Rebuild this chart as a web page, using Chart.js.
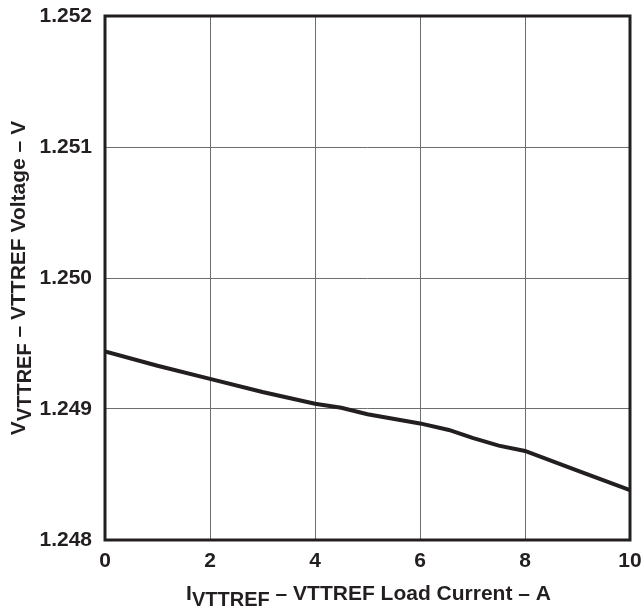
<!DOCTYPE html>
<html>
<head>
<meta charset="utf-8">
<script src="https://cdn.jsdelivr.net/npm/chart.js@4.4.1/dist/chart.umd.min.js"></script>
<style>
  html, body { margin: 0; padding: 0; background: #fff; }
  #wrap { width: 643px; height: 610px; }
</style>
</head>
<body>
<div id="wrap"><canvas id="c" width="643" height="610"></canvas></div>
<script>
// Load current (A) and the resulting VTTREF output voltage (V)
const loadCurrent = [0, 1, 2, 3, 4, 4.5, 5, 6, 6.55, 7, 7.5, 8, 9, 10];
const vttrefVoltage = [1.24944, 1.24933, 1.24923, 1.24913, 1.24904, 1.24901, 1.24896, 1.24889, 1.24884, 1.24878, 1.24872, 1.24868, 1.24853, 1.24838];
const xTicks = [0, 2, 4, 6, 8, 10];
const yTicks = [1.248, 1.249, 1.250, 1.251, 1.252];

const FONT = '"Liberation Sans", Arial, Helvetica, sans-serif';
const INK = '#231f20';

// Axis title with a subscripted symbol, centred on the current origin
function drawSubTitle(ctx, main, sub, rest, size, subSize, subDrop) {
  ctx.font = `bold ${size}px ${FONT}`;
  const w1 = ctx.measureText(main).width;
  const w3 = ctx.measureText(rest).width;
  ctx.font = `bold ${subSize}px ${FONT}`;
  const w2 = ctx.measureText(sub).width;
  let x = -(w1 + w2 + w3) / 2;
  ctx.textBaseline = 'alphabetic';
  ctx.textAlign = 'left';
  ctx.font = `bold ${size}px ${FONT}`;
  ctx.fillText(main, x, 0); x += w1;
  ctx.font = `bold ${subSize}px ${FONT}`;
  ctx.fillText(sub, x, subDrop); x += w2;
  ctx.font = `bold ${size}px ${FONT}`;
  ctx.fillText(rest, x, 0);
}

const titlesPlugin = {
  id: 'axisTitles',
  afterDraw(chart) {
    const ctx = chart.ctx;
    const area = chart.chartArea;
    ctx.save();
    ctx.fillStyle = INK;
    // x-axis title
    ctx.save();
    ctx.translate((area.left + area.right) / 2 + 1, 600);
    drawSubTitle(ctx, 'I', 'VTTREF', ' \u2013 VTTREF Load Current \u2013 A', 21, 20, 6);
    ctx.restore();
    // y-axis title
    ctx.save();
    ctx.translate(25, (area.top + area.bottom) / 2);
    ctx.rotate(-Math.PI / 2);
    drawSubTitle(ctx, 'V', 'VTTREF', ' \u2013 VTTREF Voltage \u2013 V', 21, 20, 6);
    ctx.restore();
    // plot frame
    ctx.strokeStyle = INK;
    ctx.lineWidth = 3;
    ctx.strokeRect(area.left, area.top, area.right - area.left, area.bottom - area.top);
    ctx.restore();
  }
};

new Chart(document.getElementById('c'), {
  type: 'scatter',
  data: {
    datasets: [{
      data: loadCurrent.map((x, i) => ({ x: x, y: vttrefVoltage[i] })),
      showLine: true,
      borderColor: INK,
      borderWidth: 4,
      pointRadius: 0,
      tension: 0,
      fill: false
    }]
  },
  plugins: [titlesPlugin],
  options: {
    responsive: false,
    animation: false,
    events: [],
    layout: { padding: { top: 16, right: 13, left: 0, bottom: 0 } },
    plugins: { legend: { display: false }, tooltip: { enabled: false } },
    scales: {
      x: {
        type: 'linear',
        min: 0, max: 10,
        afterBuildTicks: s => { s.ticks = xTicks.map(v => ({ value: v })); },
        afterFit: s => { s.height = 70; s.paddingLeft = 0; s.paddingRight = 0; },
        grid: { color: '#6d6e71', lineWidth: 1, drawTicks: false },
        border: { display: false },
        ticks: {
          padding: 9,
          color: INK,
          font: { family: FONT, size: 21, weight: 'bold' },
          maxRotation: 0,
          callback: v => String(v)
        }
      },
      y: {
        type: 'linear',
        min: 1.248, max: 1.252,
        afterBuildTicks: s => { s.ticks = yTicks.map(v => ({ value: v })); },
        afterFit: s => { s.width = 105; s.paddingTop = 0; s.paddingBottom = 0; },
        grid: { color: '#6d6e71', lineWidth: 1, drawTicks: false },
        border: { display: false },
        ticks: {
          padding: 13,
          color: INK,
          font: { family: FONT, size: 21, weight: 'bold' },
          callback: v => v.toFixed(3)
        }
      }
    }
  }
});
</script>
</body>
</html>
